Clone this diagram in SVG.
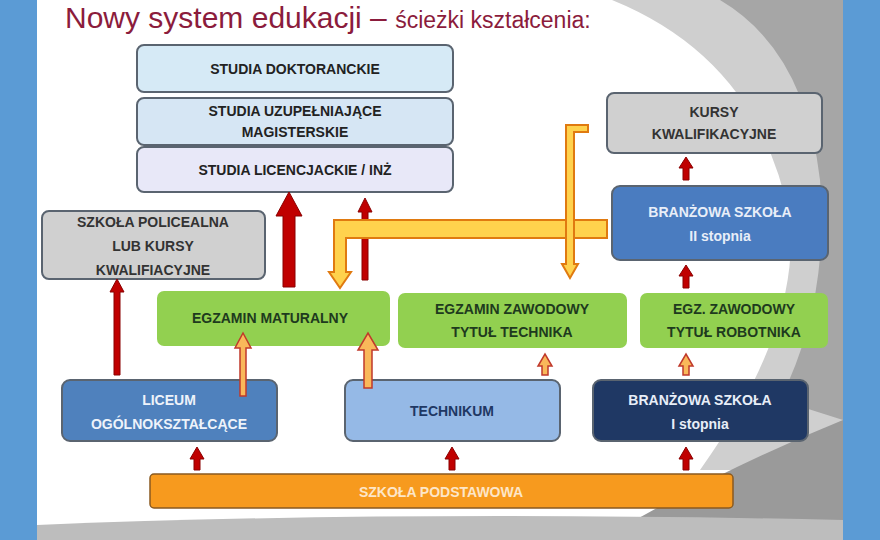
<svg xmlns="http://www.w3.org/2000/svg" width="880" height="540" viewBox="0 0 880 540">
<defs>
<style>
.t{font-family:"Liberation Sans Narrow","Liberation Sans",Arial,sans-serif;font-weight:bold;font-size:14px;text-anchor:middle}
.box{stroke:#5a6470;stroke-width:2}
.red{fill:#c00000;stroke:#8a0000;stroke-width:1}
.org{fill:#f9b85a;stroke:#c0392b;stroke-width:1.5}
.yel{fill:#ffd24d;stroke:#e07a10;stroke-width:2}
</style>
</defs>
<rect width="880" height="540" fill="#5b9bd5"/>
<rect x="37" y="0" width="806" height="540" fill="#ffffff"/>
<path d="M612 0 Q760 60 790 220 Q800 330 700 470 L843 470 L843 0Z" fill="#cfcfcf"/>
<path d="M720 0 Q805 50 820 180 Q830 300 780 400 L843 420 L843 0Z" fill="#a6a6a6"/>
<path d="M600 540 Q720 470 843 420 L843 540Z" fill="#9a9a9a"/>
<path d="M37 525 Q400 510 843 520 L843 540 L37 540Z" fill="#bdbdbd"/>
<text x="65" y="28" font-family="Liberation Sans Narrow,Liberation Sans,sans-serif" font-size="30" fill="#8b1c3c">Nowy system edukacji – <tspan font-size="23">ścieżki kształcenia:</tspan></text>

<g id="n1"><rect class="box" x="137" y="45" width="316" height="47" rx="7" fill="#d6eaf6"/><text class="t" x="295" y="74" fill="#222">STUDIA DOKTORANCKIE</text></g>
<g id="n2"><rect class="box" x="137" y="98" width="316" height="47" rx="7" fill="#d6e6f4"/><text class="t" x="295" y="116" fill="#222">STUDIA UZUPEŁNIAJĄCE</text><text class="t" x="295" y="137" fill="#222">MAGISTERSKIE</text></g>
<g id="n3"><rect class="box" x="137" y="147" width="316" height="45" rx="7" fill="#e8e8f8"/><text class="t" x="295" y="175" fill="#222">STUDIA LICENCJACKIE / INŻ</text></g>
<g id="n4"><rect class="box" x="607" y="93" width="215" height="60" rx="7" fill="#d0d0d0"/><text class="t" x="714" y="117" fill="#333">KURSY</text><text class="t" x="714" y="139" fill="#333">KWALIFIKACYJNE</text></g>
<g id="n5"><rect class="box" x="612" y="186" width="216" height="74" rx="8" fill="#4a7cc0"/><text class="t" x="720" y="217" fill="#e8eef8">BRANŻOWA SZKOŁA</text><text class="t" x="720" y="241" fill="#e8eef8" font-weight="normal">II stopnia</text></g>
<g id="n6"><rect class="box" x="42" y="211" width="223" height="68" rx="7" fill="#d0d0d0"/><text class="t" x="153" y="227" fill="#333">SZKOŁA POLICEALNA</text><text class="t" x="153" y="251" fill="#333">LUB KURSY</text><text class="t" x="153" y="275" fill="#333">KWALIFIACYJNE</text></g>
<g id="n7"><rect x="157" y="291" width="233" height="55" rx="7" fill="#92d050"/><text class="t" x="270" y="323" fill="#1e3a1e">EGZAMIN MATURALNY</text></g>
<g id="n8"><rect x="398" y="293" width="229" height="55" rx="7" fill="#92d050"/><text class="t" x="512" y="314" fill="#1e3a1e">EGZAMIN ZAWODOWY</text><text class="t" x="512" y="337" fill="#1e3a1e">TYTUŁ TECHNIKA</text></g>
<g id="n9"><rect x="640" y="293" width="188" height="55" rx="7" fill="#92d050"/><text class="t" x="734" y="314" fill="#1e3a1e">EGZ. ZAWODOWY</text><text class="t" x="734" y="337" fill="#1e3a1e">TYTUŁ ROBOTNIKA</text></g>
<g id="n10"><rect class="box" x="62" y="380" width="215" height="61" rx="8" fill="#4f81bd"/><text class="t" x="169" y="405" fill="#eef3fa">LICEUM</text><text class="t" x="169" y="429" fill="#eef3fa">OGÓLNOKSZTAŁCĄCE</text></g>
<g id="n11"><rect class="box" x="345" y="380" width="215" height="61" rx="8" fill="#95b9e6"/><text class="t" x="452" y="416" fill="#1f3864">TECHNIKUM</text></g>
<g id="n12"><rect class="box" x="593" y="380" width="215" height="61" rx="8" fill="#1f3864"/><text class="t" x="700" y="405" fill="#e8eef8">BRANŻOWA SZKOŁA</text><text class="t" x="700" y="429" fill="#e8eef8" font-weight="normal">I stopnia</text></g>
<g id="n13"><rect x="150" y="474" width="583" height="34" rx="4" fill="#f79a1e" stroke="#8a5a20" stroke-width="1.5"/><text class="t" x="441" y="497" fill="#fde6c8">SZKOŁA PODSTAWOWA</text></g>

<g id="connectors">
<path class="red" d="M283 287 V216 H276 L289 192 L302 216 H295 V287Z"/>
<path class="red" d="M362 280 V212 H358 L365 198 L372 212 H368 V280Z"/>
<path class="red" d="M114 375 V292 H110 L117 279 L124 292 H120 V375Z"/>
<path class="red" d="M683 180 V168 H679 L686 157 L693 168 H689 V180Z"/>
<path class="red" d="M683 288 V276 H679 L686 265 L693 276 H689 V288Z"/>
<path class="red" d="M194 470 V459 H190 L197 447 L204 459 H200 V470Z"/>
<path class="red" d="M449 470 V459 H445 L452 447 L459 459 H455 V470Z"/>
<path class="red" d="M683 470 V459 H679 L686 447 L693 459 H689 V470Z"/>
<path class="org" d="M240 396 V348 H235 L243 333 L251 348 H246 V396Z"/>
<path class="org" d="M364 388 V350 H358 L368 333 L378 350 H372 V388Z"/>
<path class="org" d="M542 375 V366 H538 L545 354 L552 366 H548 V375Z"/>
<path class="org" d="M683 375 V366 H679 L686 354 L693 366 H689 V375Z"/>
<path class="yel" d="M607 220 H334 V272 H329 L340 288 L351 272 H346 V238 H607Z"/>
<path class="yel" d="M588 125 H566 V264 H562 L570 278 L578 264 H574 V132 H588Z"/>
</g>
</svg>
